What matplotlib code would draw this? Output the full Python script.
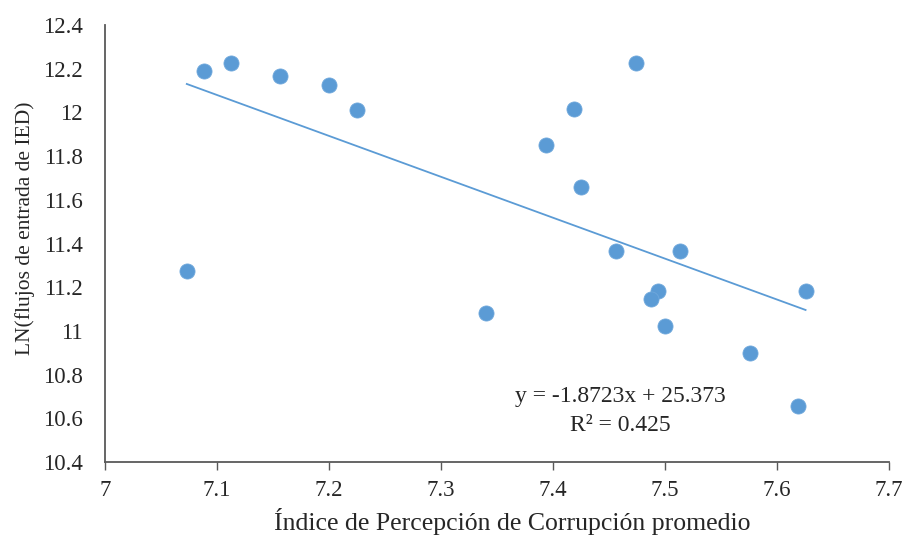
import matplotlib
matplotlib.use('Agg')
import matplotlib.pyplot as plt
from matplotlib.ticker import FuncFormatter, MultipleLocator
import numpy as np

# Índice de Percepción de Corrupción promedio vs LN(flujos de IED)
ipc = [7.073, 7.088, 7.1125, 7.156, 7.200, 7.225, 7.340, 7.394, 7.419, 7.425,
       7.474, 7.4565, 7.513, 7.494, 7.4875, 7.500, 7.5755, 7.619, 7.6255]
ln_ied = [11.274, 12.191, 12.225, 12.167, 12.124, 12.012, 11.082, 11.852, 12.016, 11.660,
          12.226, 11.364, 11.367, 11.183, 11.146, 11.024, 10.899, 10.658, 11.183]

slope = -1.8723
intercept = 25.373
r2 = 0.425

blue = '#5B9BD5'
axis_col = '#595959'
txt_col = '#262626'

plt.rcParams['font.family'] = ['Liberation Serif', 'DejaVu Serif']

fig = plt.figure(figsize=(9.04, 5.37), dpi=100)
ax = fig.add_axes([0.1162, 0.1397, 0.8672, 0.8137])

ax.scatter(ipc, ln_ied, s=118, color=blue, edgecolors='#6FA8DC', linewidths=0.6, zorder=3)

# linear trendline
xs = np.array([min(ipc), max(ipc)])
ax.plot(xs, slope * xs + intercept, color=blue, lw=1.3, zorder=2)

ax.text(7.46, 10.702, f"y = {slope}x + {intercept}", fontsize=17, ha='center', va='center', color=txt_col)
ax.text(7.46, 10.569, f"R² = {r2}", fontsize=17, ha='center', va='center', color=txt_col)

ax.set_xlim(7, 7.7)
ax.set_ylim(10.4, 12.4)
ax.xaxis.set_major_locator(MultipleLocator(0.1))
ax.yaxis.set_major_locator(MultipleLocator(0.2))
fmt = FuncFormatter(lambda v, p: f"{round(v, 1):g}")
ax.xaxis.set_major_formatter(fmt)
ax.yaxis.set_major_formatter(fmt)

for s in ['top', 'right']:
    ax.spines[s].set_visible(False)
for s in ['left', 'bottom']:
    ax.spines[s].set_color(axis_col)
    ax.spines[s].set_linewidth(1.3)

ax.tick_params(axis='x', direction='out', length=6, width=1.0, color=axis_col,
               labelsize=16.5, pad=7, labelcolor=txt_col)
ax.tick_params(axis='y', length=0, labelsize=16.5, pad=16, labelcolor=txt_col)

ax.set_xlabel("Índice de Percepción de Corrupción promedio", fontsize=18.5, color=txt_col,
              labelpad=5, x=0.519)
ax.set_ylabel("LN(flujos de entrada de IED)", fontsize=15.5, color=txt_col, labelpad=6, y=0.535)

fig.savefig("out.png", dpi=100)
